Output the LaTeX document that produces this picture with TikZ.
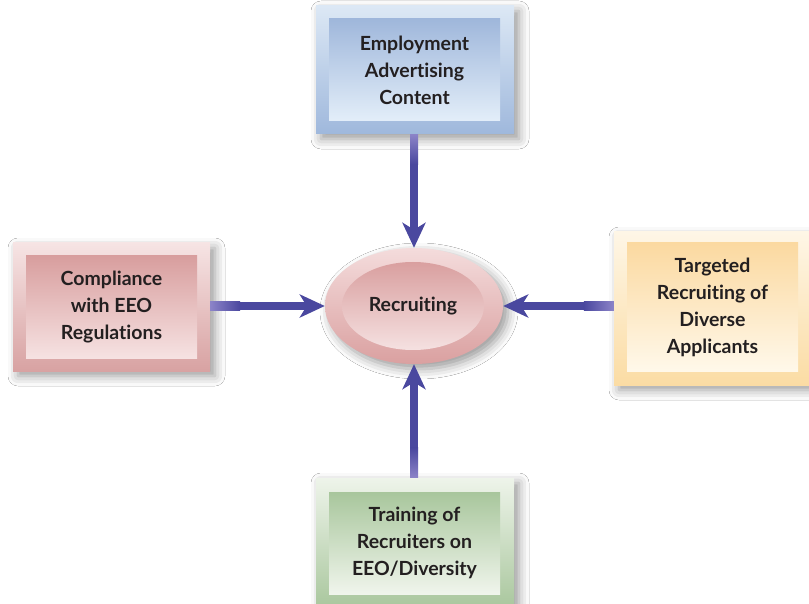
\documentclass[tikz,border=0pt]{standalone}
\usepackage{fontspec}
\setmainfont{Lato}[Ligatures=NoCommon,RawFeature={-liga;-dlig}]
\usetikzlibrary{shapes.geometric,arrows.meta,shadows.blur,calc}
\definecolor{txt}{HTML}{231F20}
\definecolor{arrc}{HTML}{4A489F}
\definecolor{arrl}{HTML}{8C84C8}
\definecolor{bOt}{HTML}{DCE8F5}\definecolor{bOb}{HTML}{9FB8DC}
\definecolor{bIt}{HTML}{9FB7DB}\definecolor{bIb}{HTML}{E3EEF9}
\definecolor{pOt}{HTML}{F6E4E4}\definecolor{pOb}{HTML}{D8A2A2}
\definecolor{pIt}{HTML}{D89E9E}\definecolor{pIb}{HTML}{F6E2E2}
\definecolor{eOt}{HTML}{F4DCDC}\definecolor{eOb}{HTML}{DAA0A0}
\definecolor{eIt}{HTML}{D99F9F}\definecolor{eIb}{HTML}{F5E1E1}
\definecolor{yOt}{HTML}{FEF6E6}\definecolor{yOb}{HTML}{FBDCA4}
\definecolor{yIt}{HTML}{FBD9A0}\definecolor{yIb}{HTML}{FFF8EA}
\definecolor{gOt}{HTML}{EEF4EA}\definecolor{gOb}{HTML}{A8C69C}
\definecolor{gIt}{HTML}{A8C69C}\definecolor{gIb}{HTML}{F0F5EC}
\tikzset{
  softshadow/.style={blur shadow={shadow xshift=5pt, shadow yshift=-5pt, shadow blur radius=10pt, shadow opacity=40}},
  outerbox/.style={rectangle, inner sep=0pt, minimum width=#1, softshadow},
  innerbox/.style={rectangle, inner sep=0pt, minimum width=171pt, align=center,
    text=txt, font=\fontsize{19.5}{27}\selectfont\bfseries},
  arr/.style={draw=arrc, line width=8pt,
    -{Stealth[length=25pt, width=23pt, inset=7pt]}},
}
\begin{document}
\begin{tikzpicture}[x=1pt,y=-1pt]
\useasboundingbox (0,0) rectangle (809,604);
\fill[white] (0,0) rectangle (809,604);
% top box
\node[outerbox=198pt, minimum height=128pt, top color=bOt, bottom color=bOb] (topo) at (415,70) {};
\node[innerbox, minimum height=102pt, top color=bIt, bottom color=bIb] (topi) at (414.5,70) {Employment\\Advertising\\Content};
% left box
\node[outerbox=197pt, minimum height=128pt, top color=pOt, bottom color=pOb] (lefto) at (111.5,307) {};
\node[innerbox, minimum height=102pt, top color=pIt, bottom color=pIb] (lefti) at (111.5,307) {Compliance\\with EEO\\Regulations};
% right box
\node[outerbox=196pt, minimum height=153pt, top color=yOt, bottom color=yOb] (righto) at (712,308.5) {};
\node[innerbox, minimum height=128pt, top color=yIt, bottom color=yIb] (righti) at (712.5,307) {Targeted\\Recruiting of\\Diverse\\Applicants};
% bottom box
\node[outerbox=198pt, minimum height=132pt, top color=gOt, bottom color=gOb] (boto) at (415,544) {};
\node[innerbox, minimum height=102pt, top color=gIt, bottom color=gIb] (boti) at (414.5,543) {Training of\\Recruiters on\\EEO/Diversity};
% center ellipse
\node[ellipse, inner sep=0pt, minimum width=178pt, minimum height=116pt, top color=eOt, bottom color=eOb, softshadow] (rec) at (414,306) {};
\node[ellipse, inner sep=0pt, minimum width=142pt, minimum height=88pt, top color=eIt, bottom color=eIb,
  text=txt, font=\fontsize{19.5}{27}\selectfont\bfseries] (reci) at (413,306) {Recruiting};
% connectors
\draw[arr] (topo.south -| rec.north) -- (rec.north);
\draw[arr] (boto.north -| rec.south) -- (rec.south);
\draw[arr] (lefto.east |- rec.west) -- (rec.west);
\draw[arr] (righto.west |- rec.east) -- (rec.east);
% light start of shafts
\shade[top color=arrl, bottom color=arrc] ($(topo.south -| rec.north)+(-4,0)$) rectangle ($(topo.south -| rec.north)+(4,30)$);
\shade[bottom color=arrl, top color=arrc] ($(boto.north -| rec.south)+(-4,0)$) rectangle ($(boto.north -| rec.south)+(4,-30)$);
\shade[left color=arrl, right color=arrc] ($(lefto.east |- rec.west)+(0,-4)$) rectangle ($(lefto.east |- rec.west)+(30,4)$);
\shade[right color=arrl, left color=arrc] ($(righto.west |- rec.east)+(0,-4)$) rectangle ($(righto.west |- rec.east)+(-30,4)$);
\end{tikzpicture}
\end{document}
